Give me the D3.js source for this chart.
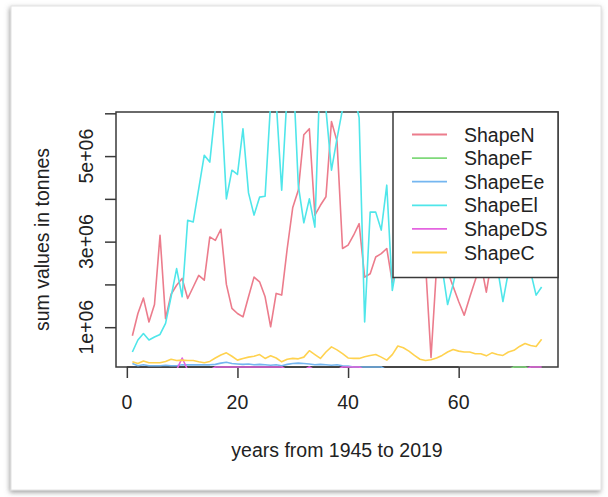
<!DOCTYPE html>
<html><head><meta charset="utf-8">
<script src="https://cdn.jsdelivr.net/npm/d3@7"></script>
<style>
html,body{margin:0;padding:0;background:#fff;}
svg{display:block;}
text{font-family:"Liberation Sans",Arial,sans-serif;fill:#222;}
</style>
</head><body>
<svg id="c" width="608" height="497"></svg>
<script>
// x index: years from 1945 (1) to 2019 (75)
const years = d3.range(1, 76);
// values in millions of tonnes
const ShapeN = [0.80,1.32,1.68,1.12,1.53,3.15,1.20,1.77,1.98,2.14,
  1.67,1.94,2.21,2.10,3.11,3.03,3.29,2.00,1.44,1.32,
  1.24,1.71,2.17,2.06,1.71,1.01,1.79,1.75,2.84,3.80,
  4.20,5.50,5.64,3.62,3.85,4.05,5.81,5.35,2.84,2.92,
  3.15,3.42,2.17,2.25,2.64,2.72,2.84,2.05,2.60,3.00,
  2.80,3.20,2.90,2.50,0.29,2.40,2.60,2.30,1.95,1.60,
  1.28,1.70,2.10,2.50,1.82,2.60,2.90,3.10,2.80,3.30,
  3.00,3.40,3.20,3.60,3.50];
const ShapeF = [0,0,0,0,0,0,0,0,0,0, 0,0,0,0,0,0,0,0,0,0,
  0,0,0,0,0,0,0,0,0,0, 0,0,0,0,0,0,0,0,0,0,
  0,0,0,0,0,0,0,0,0,0, 0,0,0,0,0,0,0,0,0,0,
  0,0,0,0,0,0,0,0,0,0.07, 0.07,0.07,0,0,0];
const ShapeEe = [0.15,0.10,0.12,0.10,0.10,0.10,0.11,0.10,0.10,0.12,
  0.12,0.12,0.12,0.12,0.12,0.13,0.16,0.18,0.15,0.14,
  0.13,0.14,0.12,0.13,0.12,0.11,0.12,0.10,0.13,0.15,
  0.16,0.15,0.14,0.12,0.13,0.12,0.11,0.12,0.10,0.09,
  0.07,0.07,0.07,0.07,0.07,0.07,0,0,0,0,
  0,0,0,0,0,0,0,0,0,0, 0,0,0,0,0,0,0,0,0,0, 0,0,0,0,0];
const ShapeEl = [0.42,0.70,0.85,0.70,0.77,0.83,1.09,1.71,2.37,1.71,
  3.50,3.46,4.24,5.02,4.86,6.10,6.40,4.00,4.67,4.57,
  5.64,4.14,3.62,4.04,4.06,6.25,6.30,4.20,6.50,7.20,
  4.32,3.44,4.00,3.34,7.20,6.10,4.67,5.41,6.10,6.60,
  6.50,5.90,1.12,3.69,3.69,3.27,4.32,1.86,2.60,3.20,
  3.80,3.40,4.00,3.50,3.00,2.60,2.40,1.53,2.00,2.60,
  3.00,2.80,3.20,3.00,2.70,2.90,2.40,1.60,2.30,2.80,
  3.10,2.70,2.30,1.75,1.94];
const ShapeDS = [0,0,0,0,0,0,0,0,0,0.28,
  0,0,0,0,0,0.07,0.07,0.07,0.07,0.07,
  0.07,0.07,0.07,0.07,0.07,0.07,0.07,0.07,0,0,
  0,0,0.07,0,0,0,0,0,0.07,0.07,
  0.07,0.07,0,0,0,0,0,0,0,0,
  0,0,0,0,0,0,0,0,0,0, 0,0,0,0,0,0,0,0,0,0,
  0,0,0.07,0.07,0.07];
const ShapeC = [0.19,0.15,0.21,0.17,0.17,0.17,0.20,0.25,0.22,0.23,
  0.22,0.22,0.19,0.17,0.20,0.28,0.35,0.40,0.32,0.23,
  0.27,0.30,0.32,0.36,0.27,0.33,0.28,0.19,0.25,0.27,
  0.26,0.30,0.45,0.36,0.27,0.42,0.54,0.47,0.38,0.28,
  0.27,0.27,0.31,0.34,0.36,0.30,0.23,0.36,0.56,0.52,
  0.44,0.34,0.25,0.22,0.24,0.28,0.34,0.42,0.48,0.44,
  0.42,0.42,0.38,0.38,0.33,0.40,0.36,0.34,0.42,0.46,
  0.55,0.62,0.57,0.55,0.72];

const seriesNames = ["ShapeN","ShapeF","ShapeEe","ShapeEl","ShapeDS","ShapeC"];
const seriesValues = [ShapeN, ShapeF, ShapeEe, ShapeEl, ShapeDS, ShapeC];
const seriesColors = ["#EC7C8C","#7FD97A","#74B6F0","#4FE6EA","#E464E0","#FFD24F"];
const xTicks = [0, 20, 40, 60];
const yTicks = [1, 2, 3, 4, 5, 6];
const yTickLabels = ["1e+06", "", "3e+06", "", "5e+06", ""];
const xTitle = "years from 1945 to 2019";
const yTitle = "sum values in tonnes";

const svg = d3.select("#c");
const defs = svg.append("defs");
const f = defs.append("filter").attr("id","sh").attr("x","-5%").attr("y","-5%").attr("width","110%").attr("height","110%");
f.append("feDropShadow").attr("dx",-1).attr("dy",2).attr("stdDeviation",2.5).attr("flood-color","#777").attr("flood-opacity",0.7);

// card
svg.append("rect").attr("x",11).attr("y",6).attr("width",590).attr("height",484)
  .attr("fill","#fff").attr("stroke","#e2e2e2").attr("filter","url(#sh)");

const L = 116, R = 558, T = 112, B = 367;
const xr = d3.extent(years), xp = 0.04*(xr[1]-xr[0]);
const x = d3.scaleLinear().domain([xr[0]-xp, xr[1]+xp]).range([L, R]);
const yr = d3.extent(ShapeN), yp = 0.04*(yr[1]-yr[0]);
const y = d3.scaleLinear().domain([yr[0]-yp, yr[1]+yp]).range([B, T]);

defs.append("clipPath").attr("id","clip").append("rect")
  .attr("x",L-1).attr("y",T-1).attr("width",R-L+2).attr("height",B-T+2);

// box
svg.append("rect").attr("x",L).attr("y",T).attr("width",R-L).attr("height",B-T)
  .attr("fill","none").attr("stroke","#3a3a3a").attr("stroke-width",1.5);

// axes
const xa = svg.append("g").attr("transform",`translate(0,${B})`)
  .call(d3.axisBottom(x).tickValues(xTicks).tickSize(11).tickFormat(""));
xa.select(".domain").remove();
xa.selectAll("line").attr("stroke","#3a3a3a").attr("stroke-width",1.5);
svg.append("line").attr("x1",x(xTicks[0])).attr("x2",x(xTicks[xTicks.length-1]))
  .attr("y1",B).attr("y2",B).attr("stroke","#3a3a3a").attr("stroke-width",1.5);
svg.selectAll(".xl").data(xTicks).enter().append("text")
  .attr("x",d=>x(d)).attr("y",409).attr("text-anchor","middle")
  .style("font-size","19.5px").text(d=>d);

const ya = svg.append("g").attr("transform",`translate(${L},0)`)
  .call(d3.axisLeft(y).tickValues(yTicks).tickSize(11).tickFormat(""));
ya.select(".domain").remove();
ya.selectAll("line").attr("stroke","#3a3a3a").attr("stroke-width",1.5);
svg.selectAll(".yl").data(yTicks).enter().append("text")
  .attr("transform",d=>`translate(93,${y(d)}) rotate(-90)`)
  .attr("text-anchor","middle").style("font-size","19.5px")
  .text((d,i)=>yTickLabels[i]);

svg.append("text").attr("x",(L+R)/2).attr("y",457).attr("text-anchor","middle")
  .style("font-size","19.5px").text(xTitle);
svg.append("text").attr("transform",`translate(49,${(T+B)/2}) rotate(-90)`)
  .attr("text-anchor","middle").style("font-size","19.5px").text(yTitle);

// lines
const line = d3.line().x((d,i)=>x(years[i])).y(d=>y(d));
const g = svg.append("g").attr("clip-path","url(#clip)");
seriesValues.forEach((vals,i)=>{
  g.append("path").datum(vals).attr("d",line).attr("fill","none")
    .attr("stroke",seriesColors[i]).attr("stroke-width",1.6).attr("stroke-linejoin","round");
});

// legend
const lx = 393, ly = T, lw = R-lx, lh = 277.5-T;
svg.append("rect").attr("x",lx).attr("y",ly).attr("width",lw).attr("height",lh)
  .attr("fill","#fff").attr("stroke","#3a3a3a").attr("stroke-width",1.5);
const lg = svg.append("g");
seriesNames.forEach((n,i)=>{
  const yy = 134.5 + i*23.6;
  lg.append("line").attr("x1",412).attr("x2",447).attr("y1",yy).attr("y2",yy)
    .attr("stroke",seriesColors[i]).attr("stroke-width",1.8);
  lg.append("text").attr("x",464).attr("y",yy+7).style("font-size","19.5px").text(n);
});
</script>
</body></html>
